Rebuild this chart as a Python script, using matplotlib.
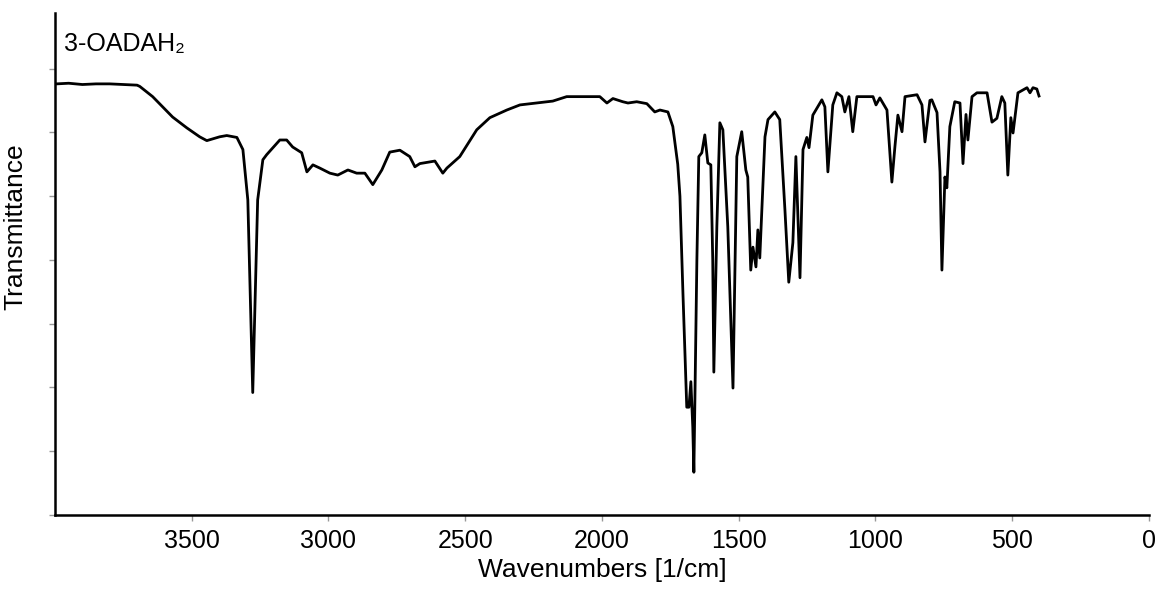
#!/usr/bin/env python3
"""FT-IR spectrum of 3-OADAH2 (transmittance vs. wavenumber)."""
import numpy as np
import matplotlib
matplotlib.use("Agg")
import matplotlib.pyplot as plt

plt.rcParams.update({
    "font.family": ["Liberation Sans", "DejaVu Sans"],
    "font.size": 18,
})

# ── Spectrum, read point by point (wavenumber in 1/cm, transmittance in a.u.) ──
wavenumber = [
    3994, 3950, 3900, 3850, 3800, 3750, 3700, 3690, 3643, 3570, 3518, 3471,
    3445, 3398, 3372, 3335, 3313, 3295, 3277, 3259, 3240, 3226, 3178, 3153,
    3131, 3098, 3079, 3057, 3032, 2995, 2966, 2929, 2897, 2867, 2838, 2805,
    2776, 2739, 2703, 2684, 2666, 2611, 2582, 2567, 2520, 2458, 2410, 2348,
    2300, 2180, 2129, 2008, 1982, 1960, 1924, 1905, 1873, 1836, 1807, 1788,
    1759, 1741, 1723, 1715, 1704, 1690, 1682, 1675, 1668, 1664, 1653, 1646,
    1635, 1624, 1613, 1602, 1595, 1591, 1580, 1569, 1558, 1540, 1521, 1507,
    1489, 1474, 1467, 1456, 1448, 1437, 1430, 1423, 1404, 1393, 1368, 1350,
    1331, 1317, 1302, 1291, 1276, 1265, 1251, 1243, 1229, 1196, 1185, 1174,
    1156, 1141, 1123, 1112, 1097, 1083, 1068, 1009, 998, 984, 958, 940,
    929, 918, 903, 892, 848, 830, 819, 801, 794, 775, 764, 757,
    746, 739, 728, 710, 691, 680, 669, 662, 647, 629, 592, 574,
    556, 538, 527, 516, 505, 497, 479, 446, 435, 424, 410, 402,
]
transmittance = [
    67.6, 67.7, 67.5, 67.6, 67.6, 67.5, 67.4, 67.2, 65.6, 62.4, 60.7, 59.3,
    58.7, 59.3, 59.5, 59.2, 57.3, 49.4, 19.2, 49.4, 55.7, 56.5, 58.8, 58.8,
    57.7, 56.8, 53.8, 54.9, 54.4, 53.6, 53.3, 54.1, 53.6, 53.6, 51.8, 54.1,
    56.9, 57.2, 56.2, 54.6, 55.1, 55.5, 53.6, 54.4, 56.2, 60.4, 62.3, 63.5,
    64.3, 64.9, 65.6, 65.6, 64.6, 65.3, 64.8, 64.6, 64.8, 64.5, 63.2, 63.5,
    63.2, 60.9, 55.0, 50.0, 34.8, 16.9, 16.9, 20.9, 13.8, 6.7, 40.0, 56.2,
    56.8, 59.6, 55.2, 54.9, 40.0, 22.4, 45.2, 61.5, 60.4, 45.2, 19.9, 56.2,
    60.1, 54.1, 53.0, 38.4, 42.0, 38.9, 44.7, 40.3, 59.3, 62.0, 63.2, 62.0,
    47.8, 36.5, 42.7, 56.2, 37.2, 57.3, 59.2, 57.6, 62.7, 65.1, 64.0, 53.8,
    64.3, 66.2, 65.6, 63.2, 65.6, 60.1, 65.6, 65.6, 64.3, 65.4, 63.5, 52.2,
    57.7, 62.7, 60.1, 65.6, 65.9, 64.3, 58.5, 65.0, 65.1, 63.1, 53.8, 38.4,
    53.0, 51.3, 60.9, 64.8, 64.6, 55.1, 62.8, 58.8, 65.6, 66.2, 66.2, 61.6,
    62.2, 65.6, 64.6, 53.3, 62.3, 59.9, 66.2, 67.0, 66.2, 67.0, 66.8, 65.7,
]
x_ticks = [3500, 3000, 2500, 2000, 1500, 1000, 500, 0]
y_ticks = np.arange(0, 80, 10)

fig = plt.figure(figsize=(11.73, 5.95), dpi=100)
ax = fig.add_axes([0.0469, 0.1345, 0.9326, 0.8435])

ax.plot(wavenumber, transmittance, color="black", linewidth=2.0,
        solid_joinstyle="round")

ax.set_xlim(4000, 0)
ax.set_ylim(0, 78.7)
ax.set_xticks(x_ticks)
ax.set_yticks(y_ticks)
ax.set_yticklabels([])
ax.tick_params(axis="both", direction="out", length=4, width=1,
               color="#999999", labelsize=18, pad=6)

for side in ("top", "right"):
    ax.spines[side].set_visible(False)
for side in ("left", "bottom"):
    ax.spines[side].set_linewidth(1.8)

ax.set_xlabel("Wavenumbers [1/cm]", fontsize=19, labelpad=4)
ax.set_ylabel("Transmittance", fontsize=19)
ax.yaxis.set_label_coords(-0.0255, 0.574)

ax.text(0.008, 0.938, "3-OADAH₂", transform=ax.transAxes, fontsize=18,
        ha="left", va="center")

fig.savefig("out.png", dpi=100)
